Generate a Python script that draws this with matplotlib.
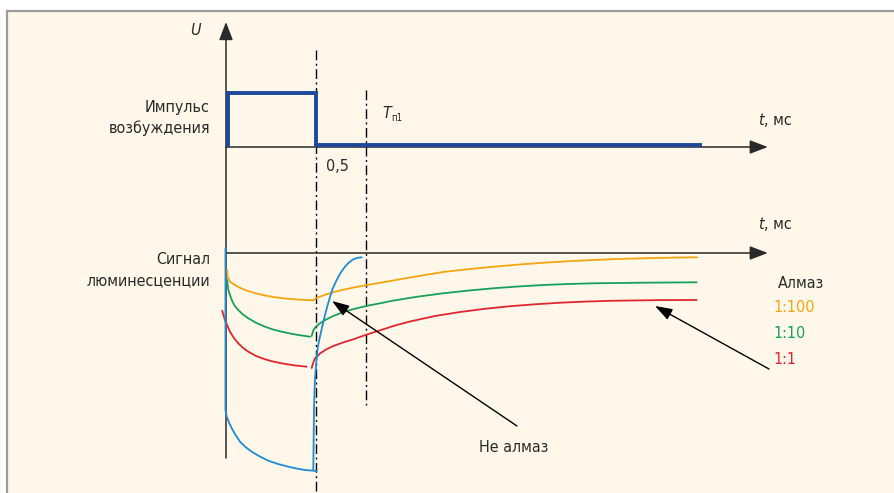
import matplotlib
matplotlib.use("Agg")
import matplotlib.pyplot as plt
from matplotlib import font_manager as fm
from matplotlib.patches import Rectangle
import numpy as np

# narrow sans if the system has one
_fonts = [(f.name, str(f.stretch)) for f in fm.fontManager.ttflist]
if any(n == 'Liberation Sans Narrow' for n, _ in _fonts):
    TXT = dict(family=['Liberation Sans Narrow', 'DejaVu Sans'], fontsize=12.5)
elif any(n == 'DejaVu Sans' and s in ('condensed', 'semi-condensed', '87.5') for n, s in _fonts):
    TXT = dict(family=['DejaVu Sans'], fontstretch='condensed', fontsize=11.5)
else:
    TXT = dict(family=['Roboto', 'DejaVu Sans'], fontsize=11.5)

# ---- data: time in ms, signal in arbitrary units (0 = lower time axis) ----
t_off = 0.5        # end of excitation pulse
t_p1 = 0.778       # T_п1 marker
t_axis_end = 3.01

pulse_t = [0.011, 0.011, 0.5, 0.5, 2.633]
pulse_on = [0, 1, 1, 0, 0]

# diamond 1:100
orange_decay_t = [0.006, 0.009, 0.022, 0.05, 0.078, 0.106, 0.144, 0.18, 0.217, 0.272, 0.328, 0.383, 0.439, 0.485]
orange_decay_s = [-0.17, -0.237, -0.287, -0.32, -0.348, -0.37, -0.392, -0.41, -0.425, -0.443, -0.455, -0.463, -0.47, -0.473]
orange_rise_t = [0.485, 0.504, 0.55, 0.596, 0.65, 0.707, 0.778, 0.856, 1.022, 1.206, 1.344, 1.483, 1.622,
                 1.761, 1.9, 2.039, 2.178, 2.317, 2.467, 2.617]
orange_rise_s = [-0.473, -0.448, -0.418, -0.392, -0.368, -0.346, -0.322, -0.298, -0.245, -0.19, -0.162, -0.138,
                 -0.116, -0.098, -0.082, -0.07, -0.06, -0.053, -0.047, -0.043]

# diamond 1:10
green_decay_t = [0.006, 0.013, 0.032, 0.047, 0.068, 0.094, 0.124, 0.167, 0.217, 0.261, 0.309, 0.356, 0.402, 0.467]
green_decay_s = [-0.27, -0.37, -0.47, -0.525, -0.57, -0.615, -0.653, -0.698, -0.737, -0.765, -0.787, -0.805, -0.82, -0.837]
green_rise_t = [0.476, 0.485, 0.5, 0.522, 0.556, 0.596, 0.639, 0.689, 0.744, 0.8, 0.856, 0.929, 1.067, 1.207,
                1.344, 1.485, 1.622, 1.763, 1.9, 2.041, 2.318, 2.615]
green_rise_s = [-0.83, -0.775, -0.735, -0.703, -0.665, -0.63, -0.6, -0.57, -0.545, -0.522, -0.503, -0.476, -0.436,
                -0.403, -0.376, -0.353, -0.335, -0.32, -0.31, -0.303, -0.297, -0.293]

# diamond 1:1
red_decay_t = [-0.021, -0.006, 0.022, 0.044, 0.068, 0.094, 0.124, 0.167, 0.217, 0.261, 0.309, 0.372, 0.448]
red_decay_s = [-0.577, -0.67, -0.787, -0.85, -0.903, -0.948, -0.987, -1.03, -1.063, -1.085, -1.103, -1.122, -1.137]
red_rise_t = [0.476, 0.485, 0.494, 0.522, 0.556, 0.596, 0.65, 0.707, 0.778, 0.856, 0.939, 1.022, 1.161, 1.3,
              1.439, 1.578, 1.717, 1.856, 1.994, 2.133, 2.411, 2.615]
red_rise_s = [-1.15, -1.095, -1.055, -1.005, -0.965, -0.93, -0.895, -0.863, -0.818, -0.773, -0.725, -0.685,
              -0.63, -0.59, -0.558, -0.532, -0.513, -0.497, -0.486, -0.478, -0.471, -0.47]

# non-diamond
blue_decay_t = [-0.003, -0.003, 0.004, 0.017, 0.032, 0.053, 0.078, 0.108, 0.143, 0.183, 0.235, 0.289, 0.346,
                0.394, 0.439, 0.504]
blue_decay_s = [0.05, -1.57, -1.637, -1.695, -1.753, -1.82, -1.887, -1.94, -1.987, -2.03, -2.077, -2.11, -2.137,
                -2.156, -2.17, -2.18]
blue_rise_t = [0.485, 0.487, 0.489, 0.494, 0.504, 0.511, 0.522, 0.536, 0.55, 0.564, 0.578, 0.594, 0.615, 0.636,
               0.661, 0.683, 0.707, 0.731, 0.754]
blue_rise_s = [-2.17, -1.87, -1.537, -1.27, -1.037, -0.93, -0.837, -0.725, -0.62, -0.525, -0.437, -0.35, -0.27,
               -0.2, -0.137, -0.095, -0.063, -0.048, -0.043]

ratio_labels = ['1:100', '1:10', '1:1']

# ---- layout helpers (figure pixels -> data) ----
X0, XK = 226, 180
Y0, YK = 253, 100
PULSE_BASE, PULSE_H = 1.08, 0.52
UPPER_AXIS = 1.06


def P(x, y):
    return (x - X0) / XK, (Y0 - y) / YK


BG = '#FEF7EA'
INK = '#2a2a2a'
C_OR, C_GR, C_RD, C_BL, C_PU = '#F5A50F', '#17A158', '#E2262F', '#1F8BD2', '#1E4899'

fig = plt.figure(figsize=(8.94, 4.93), dpi=100, facecolor='white')
ax = fig.add_axes([0, 0, 1, 1])
ax.set_xlim(P(0, 0)[0], P(894, 0)[0])
ax.set_ylim(P(0, 493)[1], P(0, 0)[1])
ax.axis('off')

# frame
x1, y1 = P(7, 11)
x2, y2 = P(900, 500)
ax.add_patch(Rectangle((x1, y2), x2 - x1, y1 - y2, facecolor=BG,
                       edgecolor='#9c9c9c', lw=1.6, zorder=0))

arrow_kw = dict(arrowstyle='-|>,head_length=1.1,head_width=0.42', color=INK,
                lw=1.1, mutation_scale=10, shrinkA=0, shrinkB=0)

# U axis
ax.annotate('', xy=P(226, 22), xytext=P(226, 458), arrowprops=arrow_kw, zorder=2)
# time axes
ax.annotate('', xy=(t_axis_end, UPPER_AXIS), xytext=(0, UPPER_AXIS), arrowprops=arrow_kw, zorder=2)
ax.annotate('', xy=(t_axis_end, 0), xytext=(0, 0), arrowprops=arrow_kw, zorder=2)

# dash-dot markers
dd = (0, (7, 2.5, 1.5, 2.5))
ax.plot([t_off, t_off], [P(0, 50)[1], P(0, 495)[1]], color='black', lw=1.0, ls=dd, zorder=1)
ax.plot([t_p1, t_p1], [P(0, 90)[1], P(0, 405)[1]], color='black', lw=1.0, ls=dd, zorder=1)

# excitation pulse
ax.plot(pulse_t, PULSE_BASE + PULSE_H * np.array(pulse_on), color=C_PU, lw=2.8,
        solid_joinstyle='miter', zorder=3)

# luminescence curves
for tt, ss, c in [(orange_decay_t, orange_decay_s, C_OR), (orange_rise_t, orange_rise_s, C_OR),
                  (green_decay_t, green_decay_s, C_GR), (green_rise_t, green_rise_s, C_GR),
                  (red_decay_t, red_decay_s, C_RD), (red_rise_t, red_rise_s, C_RD),
                  (blue_decay_t, blue_decay_s, C_BL), (blue_rise_t, blue_rise_s, C_BL)]:
    ax.plot(tt, ss, color=c, lw=1.3, solid_capstyle='round', solid_joinstyle='round', zorder=4)

# pointers
ptr_kw = dict(arrowstyle='-|>,head_length=1.05,head_width=0.36', color='black',
              lw=1.0, mutation_scale=10, shrinkA=0, shrinkB=0)
ax.annotate('', xy=P(332, 301), xytext=P(517, 426), arrowprops=ptr_kw, zorder=5)
ax.annotate('', xy=P(655, 306), xytext=P(769, 369), arrowprops=ptr_kw, zorder=5)

# text
ax.text(*P(195, 31), 'U', style='italic', color=INK, ha='center', va='center', **TXT)
ax.text(*P(210, 108), 'Импульс', color=INK, ha='right', va='center', **TXT)
ax.text(*P(210, 128), 'возбуждения', color=INK, ha='right', va='center', **TXT)
ax.text(*P(210, 259), 'Сигнал', color=INK, ha='right', va='center', **TXT)
ax.text(*P(210, 281), 'люминесценции', color=INK, ha='right', va='center', **TXT)
ax.text(*P(382, 113), 'T', style='italic', color=INK, ha='left', va='center', **TXT)
ax.text(*P(391, 118), 'п1', color=INK, ha='left', va='center', **dict(TXT, fontsize=7))
ax.text(*P(326, 167), '0,5', color=INK, ha='left', va='center', **TXT)
for yy in (121, 225):
    ax.text(*P(758, yy), 't', style='italic', color=INK, ha='left', va='center', **TXT)
    ax.text(*P(764, yy), ', мс', color=INK, ha='left', va='center', **TXT)
ax.text(*P(778, 283), 'Алмаз', color=INK, ha='left', va='center', **TXT)
for lab, c, yy in zip(ratio_labels, [C_OR, C_GR, C_RD], [308, 333, 360]):
    ax.text(*P(773, yy), lab, color=c, ha='left', va='center', **TXT)
ax.text(*P(479, 448), 'Не алмаз', color=INK, ha='left', va='center', **TXT)

fig.savefig('out.png', dpi=100, facecolor='white')
